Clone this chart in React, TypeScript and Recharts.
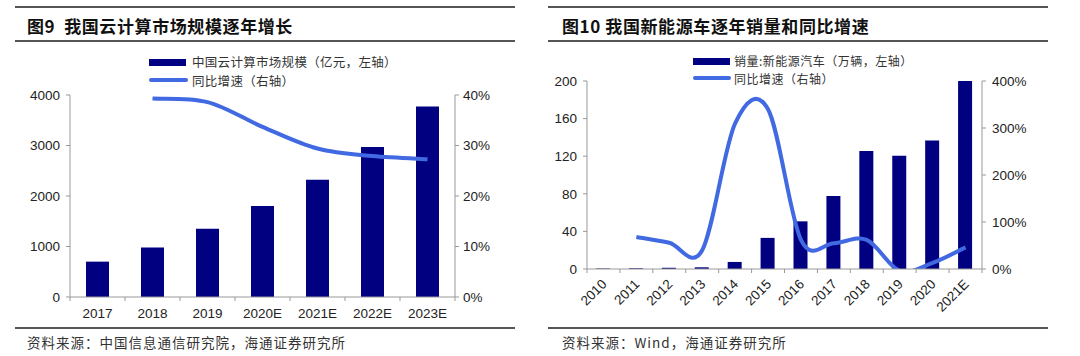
import React from 'react';
import { ComposedChart, Bar, Line, XAxis, YAxis } from 'recharts';

// fig 9: cloud computing market (亿元) and yoy growth
const cloudYears = ['2017', '2018', '2019', '2020E', '2021E', '2022E', '2023E'];
const cloudSize = [700, 980, 1350, 1800, 2320, 2970, 3770];
const cloudGrowth = [null, 0.393, 0.386, 0.337, 0.294, 0.279, 0.273];
const cloudLeftTicks = [0, 1000, 2000, 3000, 4000];
const cloudRightTicks = [0, 0.1, 0.2, 0.3, 0.4];

// fig 10: NEV sales (万辆) and yoy growth
const nevYears = ['2010', '2011', '2012', '2013', '2014', '2015', '2016', '2017', '2018', '2019', '2020', '2021E'];
const nevSales = [0.5, 0.8, 1.3, 1.8, 7.5, 33.1, 50.7, 77.7, 125.6, 120.6, 136.7, 200];
const nevGrowth = [null, 0.68, 0.56, 0.4, 3.1, 3.4, 0.62, 0.55, 0.62, -0.04, 0.13, 0.46];
const nevLeftTicks = [0, 40, 80, 120, 160, 200];
const nevRightTicks = [0, 1, 2, 3, 4];

const cloudData = cloudYears.map((year, i) => ({ year, size: cloudSize[i], growth: cloudGrowth[i] }));
const nevData = nevYears.map((year, i) => ({ year, sales: nevSales[i], growth: nevGrowth[i] }));

const BAR = '#000080';
const LINE = '#4169E1';
const AXIS = '#999';
const RULE = '#555';
const NUM_FONT = '"Liberation Sans", Arial, sans-serif';
const CJK_FONT = '"Noto Sans CJK SC", "Noto Sans", sans-serif';

const pct = (v: number) => `${Math.round(v * 100)}%`;

// excel-like smoothed line (catmull-rom style bezier)
function excelSmooth(context: any) {
  let pts: number[][] = [];
  return {
    areaStart() {},
    areaEnd() {},
    lineStart() {
      pts = [];
    },
    lineEnd() {
      if (!pts.length) return;
      context.moveTo(pts[0][0], pts[0][1]);
      for (let i = 0; i < pts.length - 1; i++) {
        const p0 = pts[Math.max(0, i - 1)];
        const p1 = pts[i];
        const p2 = pts[i + 1];
        const p3 = pts[Math.min(pts.length - 1, i + 2)];
        context.bezierCurveTo(
          p1[0] + (p2[0] - p0[0]) / 6,
          p1[1] + (p2[1] - p0[1]) / 6,
          p2[0] - (p3[0] - p1[0]) / 6,
          p2[1] - (p3[1] - p1[1]) / 6,
          p2[0],
          p2[1]
        );
      }
    },
    point(x: number, y: number) {
      pts.push([x, y]);
    },
  };
}

// category tick with excel style marks between categories
const makeTick = (band: number, rotate: boolean) => (props: any) => {
  const { x, y, payload, index } = props;
  const half = band / 2;
  return (
    <g>
      {index === 0 && <line x1={x - half} y1={y} x2={x - half} y2={y + 4} stroke={AXIS} />}
      <line x1={x + half} y1={y} x2={x + half} y2={y + 4} stroke={AXIS} />
      {rotate ? (
        <text
          x={x + 4}
          y={y + 16}
          textAnchor="end"
          transform={`rotate(-45 ${x + 4} ${y + 16})`}
          fontSize={13.5}
          fontFamily={NUM_FONT}
          fill="#222"
        >
          {payload.value}
        </text>
      ) : (
        <text x={x} y={y + 21} textAnchor="middle" fontSize={13.5} fontFamily={NUM_FONT} fill="#222">
          {payload.value}
        </text>
      )}
    </g>
  );
};

const tickStyle = { fontSize: 13.5, fontFamily: NUM_FONT, fill: '#222' };

const Rule = ({ x, y, w }: { x: number; y: number; w: number }) => (
  <div style={{ position: 'absolute', left: x, top: y - 1, width: w, height: 2, background: RULE }} />
);

const Label = ({ x, y, size, bold, spacing, children }: any) => (
  <div
    style={{
      position: 'absolute',
      left: x,
      top: y - size / 2,
      fontSize: size,
      lineHeight: `${size}px`,
      fontFamily: CJK_FONT,
      fontWeight: bold ? 700 : 400,
      letterSpacing: spacing,
      color: bold ? '#111' : '#333',
      whiteSpace: 'nowrap',
    }}
  >
    {children}
  </div>
);

const Swatch = ({ x, y, w, h, color }: any) => (
  <div style={{ position: 'absolute', left: x, top: y - h / 2, width: w, height: h, background: color, borderRadius: h > 5 ? 0 : 2 }} />
);

export default function App() {
  return (
    <div style={{ position: 'absolute', left: 0, top: 0, width: 1080, height: 356, background: '#fff', overflow: 'hidden' }}>
      {/* left panel */}
      <Rule x={15} y={7} w={500} />
      <Label x={27} y={25} size={17} bold spacing={0.6}>
        图9&nbsp;&nbsp;我国云计算市场规模逐年增长
      </Label>
      <Rule x={15} y={41} w={500} />
      <Swatch x={149} y={62} w={37} h={7} color={BAR} />
      <Label x={192} y={62} size={12.5} spacing={0.3}>中国云计算市场规模（亿元，左轴）</Label>
      <Swatch x={149} y={80} w={39} h={4} color={LINE} />
      <Label x={192} y={81} size={12.5} spacing={0.3}>同比增速（右轴）</Label>

      <div style={{ position: 'absolute', left: 0, top: 80 }}>
        <ComposedChart width={520} height={250} data={cloudData} margin={{ top: 15, right: 0, bottom: 3, left: 0 }}>
          <XAxis
            dataKey="year"
            interval={0}
            axisLine={{ stroke: AXIS }}
            tickLine={false}
            tickSize={0}
            tickMargin={0}
            height={30}
            tick={makeTick(385 / 7, false)}
          />
          <YAxis
            yAxisId="left"
            domain={[0, 4000]}
            ticks={cloudLeftTicks}
            width={70}
            axisLine={{ stroke: AXIS }}
            tickLine={{ stroke: AXIS }}
            tickSize={4}
            tickMargin={6}
            tick={tickStyle}
          />
          <YAxis
            yAxisId="right"
            orientation="right"
            domain={[0, 0.4]}
            ticks={cloudRightTicks}
            tickFormatter={pct}
            width={65}
            axisLine={{ stroke: AXIS }}
            tickLine={{ stroke: AXIS }}
            tickSize={4}
            tickMargin={4}
            tick={tickStyle}
          />
          <Bar yAxisId="left" dataKey="size" fill={BAR} barSize={23} isAnimationActive={false} />
          <Line
            yAxisId="right"
            dataKey="growth"
            type={excelSmooth as any}
            stroke={LINE}
            strokeWidth={4}
            dot={false}
            activeDot={false}
            isAnimationActive={false}
          />
        </ComposedChart>
      </div>

      <Rule x={15} y={328} w={500} />
      <Label x={27} y={343} size={13.5} spacing={1}>资料来源：中国信息通信研究院，海通证券研究所</Label>

      {/* right panel */}
      <Rule x={548} y={7} w={500} />
      <Label x={562} y={25} size={17} bold spacing={0.6}>
        图10 我国新能源车逐年销量和同比增速
      </Label>
      <Rule x={548} y={41} w={500} />
      <Swatch x={693} y={61} w={37} h={7} color={BAR} />
      <Label x={734} y={61} size={12} spacing={0.5}>销量:新能源汽车（万辆，左轴）</Label>
      <Swatch x={693} y={78} w={38} h={4} color={LINE} />
      <Label x={734} y={78.5} size={12} spacing={0.5}>同比增速（右轴）</Label>

      <div style={{ position: 'absolute', left: 540, top: 70 }}>
        <ComposedChart width={520} height={250} data={nevData} margin={{ top: 11, right: 0, bottom: 0, left: 0 }}>
          <XAxis
            dataKey="year"
            interval={0}
            axisLine={{ stroke: AXIS }}
            tickLine={false}
            tickSize={0}
            tickMargin={0}
            height={51}
            tick={makeTick(395 / 12, true)}
          />
          <YAxis
            yAxisId="left"
            domain={[0, 200]}
            ticks={nevLeftTicks}
            width={47}
            axisLine={{ stroke: AXIS }}
            tickLine={{ stroke: AXIS }}
            tickSize={4}
            tickMargin={6}
            tick={tickStyle}
          />
          <YAxis
            yAxisId="right"
            orientation="right"
            domain={[0, 4]}
            ticks={nevRightTicks}
            allowDataOverflow
            tickFormatter={pct}
            width={78}
            axisLine={{ stroke: AXIS }}
            tickLine={{ stroke: AXIS }}
            tickSize={4}
            tickMargin={6}
            tick={tickStyle}
          />
          <Bar yAxisId="left" dataKey="sales" fill={BAR} barSize={14} isAnimationActive={false} />
          <Line
            yAxisId="right"
            dataKey="growth"
            type={excelSmooth as any}
            stroke={LINE}
            strokeWidth={4}
            dot={false}
            activeDot={false}
            isAnimationActive={false}
          />
        </ComposedChart>
      </div>

      <Rule x={548} y={328} w={500} />
      <Label x={562} y={343} size={13.5} spacing={1}>资料来源：Wind，海通证券研究所</Label>
    </div>
  );
}
